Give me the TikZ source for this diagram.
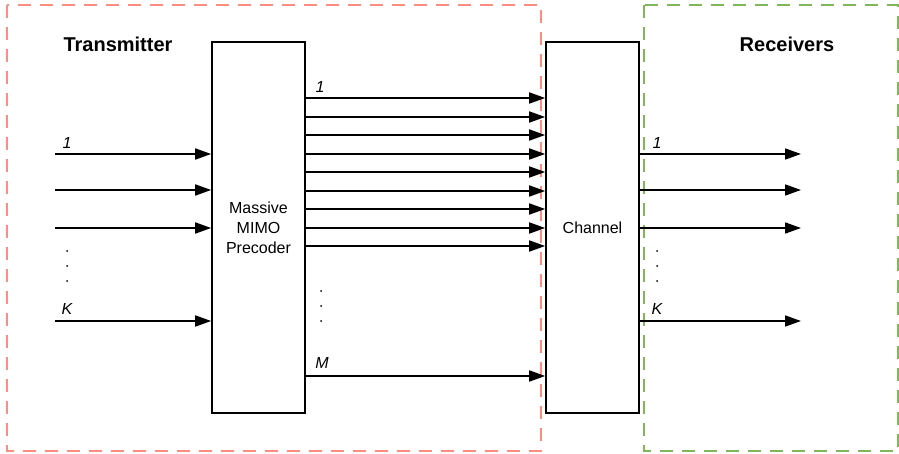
\documentclass[tikz,border=0pt]{standalone}
\usepackage{fontspec}
\setmainfont{Liberation Sans}
\usetikzlibrary{arrows.meta}
\definecolor{txred}{RGB}{255,140,128}
\definecolor{rxgreen}{RGB}{130,182,90}
\begin{document}
\begin{tikzpicture}[x=1pt,y=-1pt,
  regionbox/.style={line width=1.6pt, dash pattern=on 13pt off 9pt},
  blockbox/.style={draw, line width=1.6pt, minimum width=93pt, minimum height=371pt, inner sep=0pt, align=center, font=\fontsize{16}{20}\selectfont},
  sig/.style={line width=1.7pt, -{Triangle[length=16pt,width=11pt]}},
  lbl/.style={font=\itshape\fontsize{16}{19}\selectfont, inner sep=0pt},
  title/.style={font=\bfseries\fontsize{20}{24}\selectfont, inner sep=0pt},
  dotlbl/.style={circle, fill, inner sep=0pt, minimum size=2pt}
]
\useasboundingbox (0,0) rectangle (899,454);
\draw[regionbox, txred] (7,5) rectangle (541,451);
\draw[regionbox, rxgreen] (644,5) rectangle (898,451);
\node[title] (tx) at (118,44) {Transmitter};
\node[title] (rx) at (787,44) {Receivers};
\node[blockbox] (pre) at (258.5,227.5) {Massive\\MIMO\\Precoder};
\node[blockbox] (ch) at (592.5,227.5) {Channel};
% inputs
\foreach \y/\n in {154/i1,190/i2,228/i3,321/iK} {
  \coordinate (\n) at (55,\y);
  \draw[sig] (\n) -- (pre.west |- \n);
}
\node[lbl] (l1) at (67,143) {1};
\node[lbl] (lK) at (67,309) {K};
\foreach \y [count=\k] in {251,266,281} \node[dotlbl] (da\k) at (67,\y) {};
% precoder outputs
\foreach \y/\n in {98/o1,117/o2,135/o3,154/o4,172/o5,191/o6,209/o7,228/o8,246/o9,376/oM} {
  \coordinate (\n) at (pre.east |- 0,\y);
  \draw[sig] (\n) -- (ch.west |- \n);
}
\node[lbl] (m1) at (320,87) {1};
\node[lbl] (mM) at (322,363) {M};
\foreach \y [count=\k] in {291,306,321} \node[dotlbl] (db\k) at (321,\y) {};
% receivers
\foreach \y/\n in {154/r1,190/r2,228/r3,321/rK} {
  \coordinate (\n) at (801,\y);
  \draw[sig] (ch.east |- \n) -- (\n);
}
\node[lbl] (n1) at (657,143) {1};
\node[lbl] (nK) at (657,309) {K};
\foreach \y [count=\k] in {251,266,281} \node[dotlbl] (dc\k) at (657,\y) {};
\end{tikzpicture}
\end{document}
